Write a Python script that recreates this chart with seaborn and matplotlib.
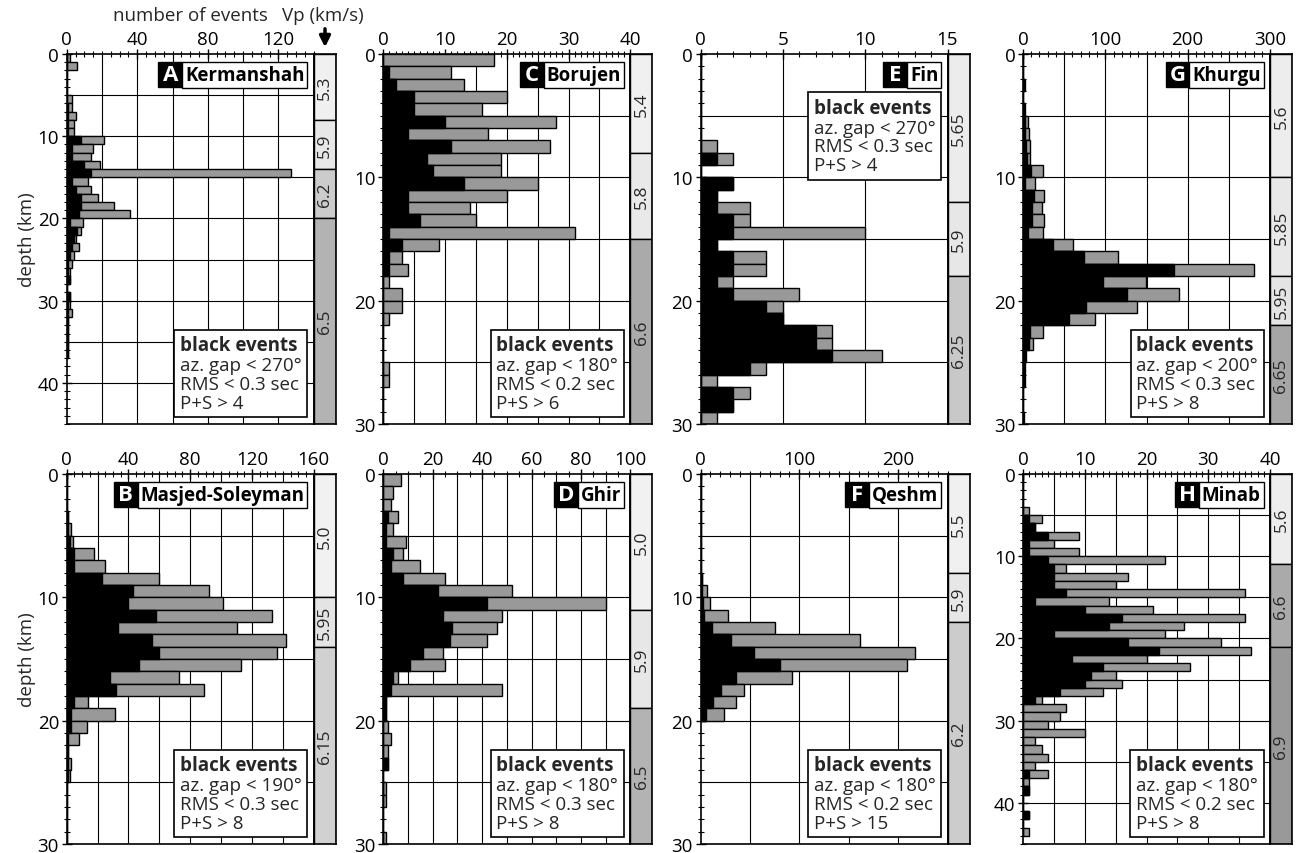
import numpy as np
import pandas as pd
import matplotlib
matplotlib.use("Agg")
import matplotlib.pyplot as plt
import seaborn as sns
from matplotlib.ticker import MultipleLocator
from matplotlib.offsetbox import TextArea, VPacker, HPacker, PaddedBox, AnchoredOffsetbox

# ---------------- data: number of events per 1-km depth bin (bin i = i..i+1 km) ----------------
kermanshah_total = [2, 6, 0, 0, 0, 3, 3, 5, 4, 4, 21, 15, 14, 19, 127, 12, 14, 18, 27, 36,
                    9, 8, 5, 7, 4, 3, 2, 2, 0, 2, 2, 3, 1, 1, 1, 1, 1]
kermanshah_black = [0, 0, 0, 0, 0, 0, 1, 1, 1, 1, 8, 3, 3, 10, 14, 3, 5, 8, 8, 7,
                    2, 6, 4, 3, 2, 1, 1, 2, 0, 2, 1, 1, 1, 1, 1, 1, 1]
kermanshah_vp_top = [0, 8, 14, 20]
kermanshah_vp_bot = [8, 14, 20, 45]
kermanshah_vp = [5.3, 5.9, 6.2, 6.5]

borujen_total = [18, 11, 13, 20, 16, 28, 17, 27, 19, 19, 25, 20, 14, 15, 31, 9, 3, 4, 1, 3,
                 3, 1, 0, 0, 0, 1, 1, 0, 0, 0]
borujen_black = [0, 1, 2, 5, 5, 10, 4, 11, 7, 8, 13, 4, 4, 6, 1, 3, 1, 1, 0, 0,
                 0, 0, 0, 0, 0, 0, 0, 0, 0, 0]
borujen_vp_top = [0, 8, 15]
borujen_vp_bot = [8, 15, 30]
borujen_vp = [5.4, 5.8, 6.6]

fin_total = [0, 0, 0, 0, 0, 0, 0, 1, 2, 0, 2, 1, 3, 3, 10, 1, 4, 4, 2, 6,
             5, 5, 8, 8, 11, 4, 1, 3, 2, 1]
fin_black = [0, 0, 0, 0, 0, 0, 0, 0, 1, 0, 2, 1, 1, 2, 2, 1, 2, 2, 1, 2,
             4, 5, 7, 7, 8, 3, 0, 2, 2, 0]
fin_vp_top = [0, 12, 18]
fin_vp_bot = [12, 18, 30]
fin_vp = [5.65, 5.9, 6.25]

khurgu_total = [0, 0, 3, 0, 2, 6, 7, 8, 9, 24, 15, 25, 23, 26, 24, 61, 115, 281, 149, 189,
                138, 87, 24, 12, 4, 2, 2, 0, 0, 1]
khurgu_black = [0, 0, 1, 0, 1, 2, 3, 4, 5, 10, 2, 13, 11, 11, 6, 36, 74, 184, 97, 126,
                76, 56, 9, 7, 3, 1, 1, 0, 0, 0]
khurgu_vp_top = [0, 10, 18, 22]
khurgu_vp_bot = [10, 18, 22, 30]
khurgu_vp = [5.6, 5.85, 5.95, 6.65]

masjed_total = [0, 0, 0, 1, 3, 4, 18, 25, 60, 92, 101, 133, 110, 142, 136, 113, 73, 89, 14, 31,
                13, 8, 1, 3, 2, 0, 0, 0, 0, 0]
masjed_black = [0, 0, 0, 1, 1, 2, 5, 5, 23, 43, 40, 58, 33, 55, 60, 47, 28, 32, 5, 3,
                3, 1, 1, 1, 1, 0, 0, 0, 0, 0]
masjed_vp_top = [0, 10, 14]
masjed_vp_bot = [10, 14, 30]
masjed_vp = [5.0, 5.95, 6.15]

ghir_total = [7, 4, 3, 6, 4, 9, 8, 15, 25, 52, 90, 48, 46, 42, 24, 25, 6, 48, 1, 1,
              2, 3, 2, 2, 0, 1, 1, 0, 0, 1]
ghir_black = [0, 0, 0, 2, 1, 1, 4, 3, 8, 22, 42, 24, 28, 27, 16, 11, 4, 3, 1, 1,
              0, 0, 0, 2, 0, 0, 0, 0, 0, 0]
ghir_vp_top = [0, 11, 19]
ghir_vp_bot = [11, 19, 30]
ghir_vp = [5.0, 5.9, 6.5]

qeshm_total = [0, 0, 0, 0, 0, 0, 0, 1, 2, 7, 10, 28, 75, 161, 217, 209, 93, 44, 36, 24]
qeshm_black = [0, 0, 0, 0, 0, 0, 0, 1, 2, 2, 3, 4, 12, 31, 54, 80, 36, 21, 13, 6]
qeshm_vp_top = [0, 8, 12]
qeshm_vp_bot = [8, 12, 30]
qeshm_vp = [5.5, 5.9, 6.2]

minab_total = [0, 0, 0, 0, 1, 3, 2, 9, 5, 9, 23, 7, 17, 15, 36, 14, 21, 36, 26, 23,
               32, 37, 20, 27, 15, 16, 13, 3, 7, 6, 4, 10, 2, 3, 4, 2, 4, 1, 1, 0,
               0, 1, 0, 1]
minab_black = [0, 0, 0, 0, 0, 1, 2, 4, 1, 1, 4, 5, 5, 5, 7, 2, 10, 16, 14, 5,
               17, 22, 8, 13, 11, 10, 6, 2, 0, 0, 0, 0, 0, 0, 0, 0, 1, 0, 1, 0,
               0, 1, 0, 0]
minab_vp_top = [0, 11, 21]
minab_vp_bot = [11, 21, 45]
minab_vp = [5.6, 6.6, 6.9]

letters = ["A", "C", "E", "G", "B", "D", "F", "H"]
names = ["Kermanshah", "Borujen", "Fin", "Khurgu", "Masjed-Soleyman", "Ghir", "Qeshm", "Minab"]
criteria = [
    ["az. gap < 270°", "RMS < 0.3 sec", "P+S > 4"],
    ["az. gap < 180°", "RMS < 0.2 sec", "P+S > 6"],
    ["az. gap < 270°", "RMS < 0.3 sec", "P+S > 4"],
    ["az. gap < 200°", "RMS < 0.3 sec", "P+S > 8"],
    ["az. gap < 190°", "RMS < 0.3 sec", "P+S > 8"],
    ["az. gap < 180°", "RMS < 0.3 sec", "P+S > 8"],
    ["az. gap < 180°", "RMS < 0.2 sec", "P+S > 15"],
    ["az. gap < 180°", "RMS < 0.2 sec", "P+S > 8"],
]
totals = [kermanshah_total, borujen_total, fin_total, khurgu_total,
          masjed_total, ghir_total, qeshm_total, minab_total]
blacks = [kermanshah_black, borujen_black, fin_black, khurgu_black,
          masjed_black, ghir_black, qeshm_black, minab_black]
vp_tops = [kermanshah_vp_top, borujen_vp_top, fin_vp_top, khurgu_vp_top,
           masjed_vp_top, ghir_vp_top, qeshm_vp_top, minab_vp_top]
vp_bots = [kermanshah_vp_bot, borujen_vp_bot, fin_vp_bot, khurgu_vp_bot,
           masjed_vp_bot, ghir_vp_bot, qeshm_vp_bot, minab_vp_bot]
vps = [kermanshah_vp, borujen_vp, fin_vp, khurgu_vp, masjed_vp, ghir_vp, qeshm_vp, minab_vp]

# axis settings: (xmax, major, minor, grid, ymax)
axis_cfg = [(140, 40, 5, 20, 45), (40, 10, 1, 5, 30), (15, 5, 1, 5, 30), (300, 100, 10, 50, 30),
            (160, 40, 5, 20, 30), (100, 20, 5, 10, 30), (250, 100, 10, 50, 30), (40, 10, 1, 5, 45)]

# ---------------- style ----------------
sns.set_style("ticks")
plt.rcParams["font.family"] = ["Open Sans", "DejaVu Sans"]
plt.rcParams["axes.edgecolor"] = "black"
plt.rcParams["axes.linewidth"] = 1.2
plt.rcParams["xtick.color"] = "black"
plt.rcParams["ytick.color"] = "black"

W, H = 1296, 854
fig = plt.figure(figsize=(W / 100, H / 100), dpi=100)
fig.patch.set_facecolor("white")

col_left = [66.7, 383.3, 700.5, 1023.0]
row_top = [55, 475]
main_w, strip_w, ax_h = 247, 22, 370
FS = 13.5
TICK_FS = 13.5


def vp_label(v):
    s = f"{v:.2f}"
    return s[:-1] if s.endswith("0") else s


def vp_gray(v):
    lv = float(np.interp(v, [5.0, 5.5, 5.9, 6.0, 6.2, 6.5, 6.65, 6.9],
                         [0.945, 0.94, 0.905, 0.88, 0.8, 0.7, 0.65, 0.6]))
    return (lv, lv, lv)


axes = []
for i in range(8):
    row, col = divmod(i, 4)
    xmax, major, minor, grid, ymax = axis_cfg[i]
    L = col_left[col]
    T = row_top[row]
    ax = fig.add_axes([L / W, 1 - (T + ax_h) / H, main_w / W, ax_h / H])
    sax = fig.add_axes([(L + main_w) / W, 1 - (T + ax_h) / H, strip_w / W, ax_h / H])
    axes.append(ax)

    total = np.array(totals[i])
    black = np.array(blacks[i])
    n = len(total)
    df = pd.DataFrame({"depth": np.arange(n) + 0.5, "total": total, "black": black})
    sns.histplot(data=df, y="depth", weights="total", bins=n, binrange=(0, n), ax=ax,
                 color="#999999", edgecolor="black", linewidth=1.0, alpha=1, zorder=2)
    sns.histplot(data=df, y="depth", weights="black", bins=n, binrange=(0, n), ax=ax,
                 color="black", edgecolor="black", linewidth=1.0, alpha=1, zorder=3)

    for gx in np.arange(grid, xmax, grid):
        ax.axvline(gx, color="black", lw=0.8, zorder=1)
    for gy in np.arange(5, ymax, 5):
        ax.axhline(gy, color="black", lw=0.8, zorder=1)

    ax.set_xlim(0, xmax)
    ax.set_ylim(ymax, 0)
    ax.set_xlabel("")
    ax.set_ylabel("")
    ax.xaxis.tick_top()
    ax.xaxis.set_major_locator(MultipleLocator(major))
    ax.xaxis.set_minor_locator(MultipleLocator(minor))
    ax.yaxis.set_major_locator(MultipleLocator(10))
    ax.yaxis.set_minor_locator(MultipleLocator(1))
    ax.tick_params(axis="x", which="major", direction="inout", length=7, width=1,
                   top=True, bottom=False, labeltop=True, labelbottom=False,
                   labelsize=TICK_FS, pad=1)
    ax.tick_params(axis="x", which="minor", direction="inout", length=4, width=0.8,
                   top=True, bottom=False)
    ax.tick_params(axis="y", which="major", direction="inout", length=7, width=1,
                   left=True, right=False, labelsize=TICK_FS, pad=2)
    ax.tick_params(axis="y", which="minor", direction="inout", length=4, width=0.8,
                   left=True, right=False)
    for s in ax.spines.values():
        s.set_color("black")
        s.set_linewidth(1.2)
        s.set_visible(True)
    if col == 0:
        ax.set_ylabel("depth (km)", fontsize=FS, labelpad=1)

    # velocity strip
    tops = np.array(vp_tops[i], dtype=float)
    bots = np.array(vp_bots[i], dtype=float)
    sax.barh(y=tops, width=1, height=bots - tops, left=0, align="edge",
             color=[vp_gray(v) for v in vps[i]], edgecolor="black", linewidth=1.0)
    for t, b, v in zip(tops, bots, vps[i]):
        sax.text(0.52, (t + b) / 2, vp_label(v), rotation=90, ha="center", va="center",
                 fontsize=12.5)
    sax.set_xlim(0, 1)
    sax.set_ylim(ymax, 0)
    sax.set_xticks([])
    sax.set_yticks([])
    for s in sax.spines.values():
        s.set_color("black")
        s.set_linewidth(1.2)
        s.set_visible(True)

    # title box
    letter = TextArea(letters[i], textprops=dict(color="white", fontweight="bold", fontsize=16))
    letter_wide = VPacker(children=[letter], width=20, align="center", pad=0, sep=0)
    name = TextArea(names[i], textprops=dict(color="black", fontweight="bold", fontsize=FS))
    lb = PaddedBox(letter_wide, pad=1.4, draw_frame=True,
                   patch_attrs=dict(facecolor="black", edgecolor="black", linewidth=1.0))
    nb = PaddedBox(name, pad=2.0, draw_frame=True,
                   patch_attrs=dict(facecolor="white", edgecolor="black", linewidth=1.0))
    hp = HPacker(children=[lb, nb], align="center", pad=0, sep=0)
    tb = AnchoredOffsetbox(loc="upper right", child=hp, pad=0, borderpad=0, frameon=False,
                           bbox_to_anchor=(0.974, 0.978), bbox_transform=ax.transAxes)
    tb.set_zorder(6)
    ax.add_artist(tb)

    # criteria box
    lines = [TextArea("black events", textprops=dict(fontweight="bold", fontsize=FS))]
    lines += [TextArea(c, textprops=dict(fontsize=FS)) for c in criteria[i]]
    vpk = VPacker(children=lines, align="left", pad=0, sep=0.6)
    if letters[i] == "E":
        cb = AnchoredOffsetbox(loc="upper right", child=vpk, pad=0.3, borderpad=0, frameon=True,
                               prop=dict(size=FS), bbox_to_anchor=(0.974, 0.897),
                               bbox_transform=ax.transAxes)
    else:
        cb = AnchoredOffsetbox(loc="lower right", child=vpk, pad=0.3, borderpad=0, frameon=True,
                               prop=dict(size=FS), bbox_to_anchor=(0.974, 0.018),
                               bbox_transform=ax.transAxes)
    cb.patch.set_boxstyle("square,pad=0")
    cb.patch.set_edgecolor("black")
    cb.patch.set_linewidth(1.2)
    cb.patch.set_facecolor("white")
    cb.set_zorder(6)
    ax.add_artist(cb)

# header texts
fig.text(190 / W, 1 - 16 / H, "number of events", ha="center", va="center", fontsize=FS)
fig.text(323 / W, 1 - 16 / H, "Vp (km/s)", ha="center", va="center", fontsize=FS)
axes[0].annotate("", xy=(325 / W, 1 - 51 / H), xytext=(325 / W, 1 - 27 / H),
                 xycoords="figure fraction", textcoords="figure fraction",
                 arrowprops=dict(arrowstyle="-|>", lw=2.5, color="black", mutation_scale=16),
                 annotation_clip=False)

fig.savefig("out.png", dpi=100, facecolor="white")
